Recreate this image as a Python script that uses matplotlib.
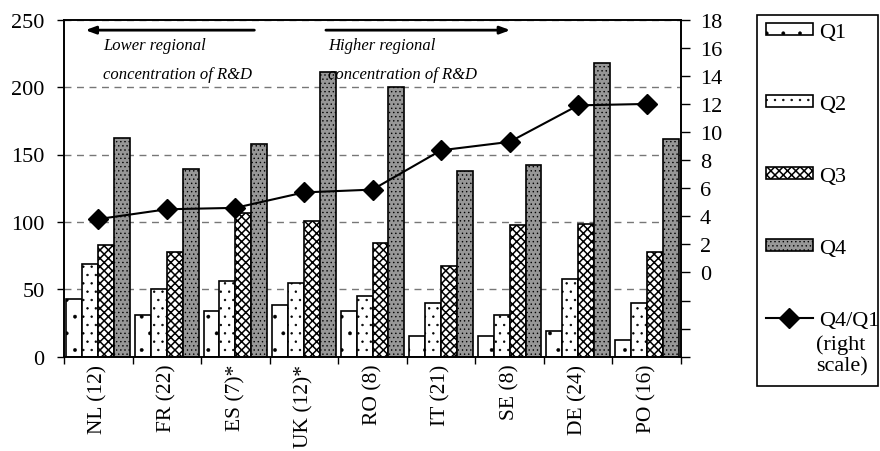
import numpy as np
import matplotlib
matplotlib.use("Agg")
import matplotlib.pyplot as plt
from matplotlib.patches import Rectangle

plt.rcParams['font.family'] = ['Liberation Serif', 'DejaVu Serif']
plt.rcParams['hatch.linewidth'] = 0.5

# data
countries = ["NL (12)", "FR (22)", "ES (7)*", "UK (12)*", "RO (8)", "IT (21)", "SE (8)", "DE (24)", "PO (16)"]
q1 = [42.5, 31, 34, 38, 34, 15.5, 15.5, 19, 12.5]
q2 = [68.5, 50, 56, 54.5, 45, 40, 31, 58, 40]
q3 = [83, 78, 106.5, 100.5, 84, 67.5, 97.5, 98.5, 77.5]
q4 = [162, 139, 158, 211, 200, 137.5, 142, 218, 161.5]
ratio = [3.8, 4.5, 4.6, 5.7, 5.9, 8.7, 9.3, 11.9, 12.0]

left_ticks = [0, 50, 100, 150, 200, 250]
right_ticks = list(range(-6, 19, 2))

fig = plt.figure(figsize=(8.8, 4.52), dpi=100)
ax = fig.add_axes([64/880, 1 - 357.7/452, 617/880, 337/452])

x = np.arange(len(countries))
w = 0.232
styles = [
    dict(facecolor="white", hatch="."),
    dict(facecolor="white", hatch=".."),
    dict(facecolor="white", hatch="xxxx"),
    dict(facecolor="#979797", hatch="...."),
]
hatch_lw = [0.3, 0.5, 1.1, 0.5]
bars = []
for i, (vals, st) in enumerate(zip([q1, q2, q3, q4], styles)):
    b = ax.bar(x + (i - 1.5) * w, vals, w, edgecolor="black", linewidth=1.2, **st)
    for p in b:
        p.set_hatch_linewidth(hatch_lw[i])
    bars.append(b)

ax.set_xlim(-0.5, len(countries) - 0.5)
ax.set_ylim(0, 250)
ax.set_yticks(left_ticks)
ax.yaxis.grid(True, linestyle=(0, (5, 4)), color="#777777", linewidth=1.0)
ax.set_axisbelow(True)
ax.tick_params(axis="y", direction="out", length=5, width=1, labelsize=16, pad=9)

ax.set_xticks(x)
ax.set_xticklabels(countries, rotation=90, fontsize=15.5)
ax.set_xticks(np.arange(len(countries) + 1) - 0.5, minor=True)
ax.tick_params(axis="x", which="major", length=0, pad=5)
ax.tick_params(axis="x", which="minor", length=5, width=1, direction="out")

for s in ax.spines.values():
    s.set_linewidth(1.2)

ax2 = ax.twinx()
line, = ax2.plot(x, ratio, color="black", linewidth=1.5, marker="D", markersize=10)
ax2.set_ylim(-6, 18)
ax2.set_yticks(right_ticks)
ax2.set_yticklabels([str(t) if t >= 0 else "" for t in right_ticks])
ax2.tick_params(axis="y", direction="out", length=6.5, width=1, labelsize=16, pad=7)
for s in ax2.spines.values():
    s.set_linewidth(1.2)

# direction arrows and notes
arrow = dict(arrowstyle="-|>,head_length=0.6,head_width=0.22", color="black", lw=2)
ax.annotate("", xy=(0.03, 0.969), xytext=(0.313, 0.969), xycoords="axes fraction", arrowprops=arrow)
ax.annotate("", xy=(0.728, 0.969), xytext=(0.42, 0.969), xycoords="axes fraction", arrowprops=arrow)
ax.text(0.063, 0.95, "Lower regional\nconcentration of R&D", transform=ax.transAxes,
        style="italic", fontsize=12, va="top", ha="left", linespacing=2.15)
ax.text(0.428, 0.95, "Higher regional\nconcentration of R&D", transform=ax.transAxes,
        style="italic", fontsize=12, va="top", ha="left", linespacing=2.15)

# legend, frame drawn separately so it can hold the extra note
fig.patches.append(Rectangle((757/880, 1 - 387/452), 121/880, 371/452, transform=fig.transFigure,
                             facecolor="white", edgecolor="black", linewidth=1.2, zorder=-1))
leg = fig.legend(bars + [line], ["Q1", "Q2", "Q3", "Q4", "Q4/Q1"], loc="upper left",
                 bbox_to_anchor=(766/880, 1 - 24/452), frameon=False, fontsize=16,
                 handlelength=2.1, handleheight=0.45, handletextpad=0.3, labelspacing=2.38,
                 borderaxespad=0, borderpad=0)
for h, lw in zip(leg.legend_handles[:4], hatch_lw):
    h.set_hatch_linewidth(lw)
fig.text(816/880, 1 - 335/452, "(right\nscale)", fontsize=16, va="top", ha="left", linespacing=1.2)

fig.savefig("out.png", dpi=100)
